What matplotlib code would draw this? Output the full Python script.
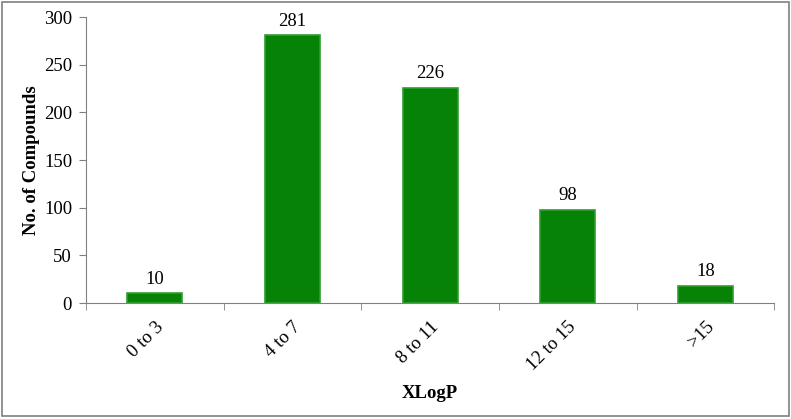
import matplotlib.pyplot as plt
from matplotlib.patches import Rectangle
import numpy as np

categories = ['0 to 3', '4 to 7', '8 to 11', '12 to 15', '>15']
counts = [10, 281, 226, 98, 18]

plt.rcParams['font.family'] = ['Liberation Serif', 'DejaVu Serif']

fig = plt.figure(figsize=(7.91, 4.19), dpi=100)
ax = fig.add_axes([0.1087, 0.2768, 0.87, 0.6826])

x = np.arange(len(categories))
bars = ax.bar(x, counts, width=0.4, color='#068206', edgecolor='#2f9e2f', linewidth=1.2)

for xi, v in zip(x, counts):
    ax.annotate(str(v), (xi, v), xytext=(0, 4), textcoords='offset points',
                ha='center', va='bottom', fontsize=13.5)

ax.set_xlim(-0.5, 4.5)
ax.set_ylim(0, 300)
ax.set_yticks(range(0, 301, 50))
ax.set_xticks(x)
ax.set_xticklabels(categories, rotation=45, ha='right', rotation_mode='anchor', fontsize=13.5)
ax.set_xticks(np.arange(-0.5, 5, 1), minor=True)
ax.tick_params(axis='x', which='major', length=0, pad=11)
ax.tick_params(axis='x', which='minor', length=5, color='#808080')
ax.tick_params(axis='y', length=5, color='#808080', labelsize=13.5, pad=5)

for s in ['top', 'right']:
    ax.spines[s].set_visible(False)
for s in ['left', 'bottom']:
    ax.spines[s].set_color('#808080')

ax.set_xlabel('XLogP', fontsize=13.5, fontweight='bold', labelpad=8)
ax.set_ylabel('No. of Compounds', fontsize=13.5, fontweight='bold', labelpad=3)

fig.patches.append(Rectangle((0.002, 0.006), 0.995, 0.99, transform=fig.transFigure,
                             fill=False, edgecolor='#808080', linewidth=1.2))

fig.savefig('out.png', dpi=100)
